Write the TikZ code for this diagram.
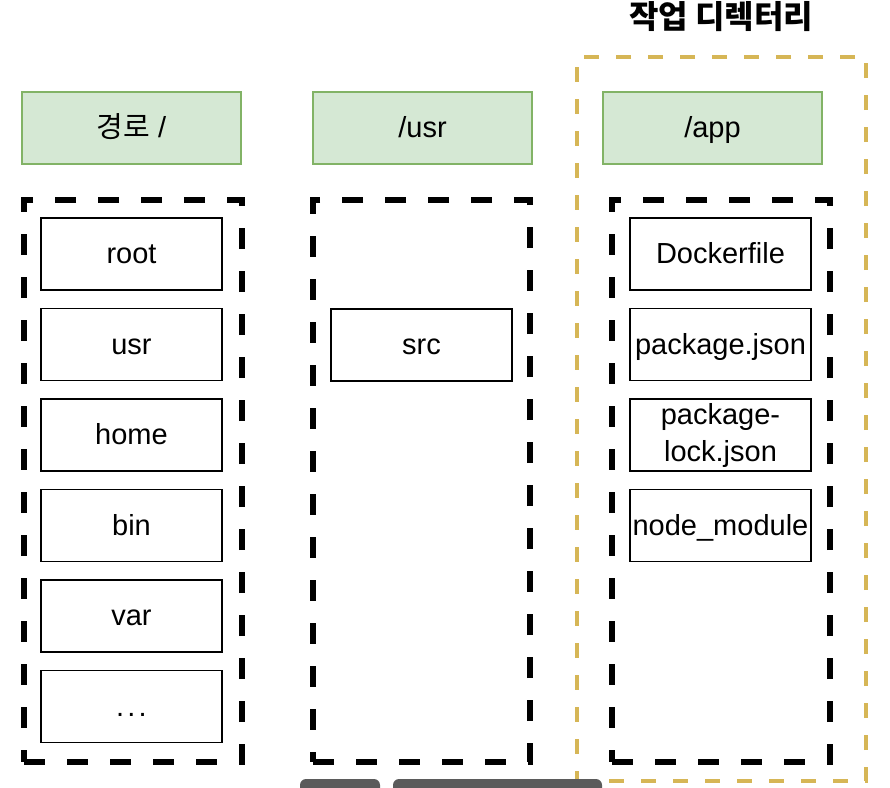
\documentclass[tikz,border=0pt]{standalone}
\usepackage{fontspec}
\setmainfont{Liberation Sans}
\newfontfamily\kr{Noto Sans CJK KR}
\usepackage{xcolor}
\usepackage{tikz}
\usetikzlibrary{shapes,positioning}

\definecolor{headfill}{HTML}{D5E8D4}
\definecolor{headline}{HTML}{82B366}
\definecolor{workline}{HTML}{D6B656}
\definecolor{barfill}{HTML}{5B5B5B}

\begin{document}
\begin{tikzpicture}[x=0.5pt, y=-0.5pt, node distance=45.25pt, font=\fontsize{14.5}{18.5}\selectfont]

\useasboundingbox (0,0) rectangle (890,788);

\tikzstyle{head}=[draw=headline, fill=headfill, line width=0.75pt, minimum width=109.5pt, minimum height=36pt, text height=10pt, text depth=0.5pt]
\tikzstyle{folder}=[draw, line width=2.8pt, dash pattern=on 10.5pt off 11pt, minimum width=109pt, minimum height=281pt]
\tikzstyle{item}=[draw, line width=0.7pt, minimum width=90.5pt, minimum height=36pt, inner sep=1pt, align=center, text height=10pt, text depth=0.5pt]

% title and working directory
\node [font=\kr\bfseries\fontsize{16}{18}\selectfont] (title) at (721,17) {작업 디렉터리};
\node [draw=workline, line width=2pt, dash pattern=on 7.5pt off 8.5pt, minimum width=144.5pt, minimum height=362pt] (workdir) at (721.5,419) {};

% headers
\node [head] (hroot) at (131.5,128) {{\kr 경로} /};
\node [head] (husr) at (422.5,128) {/usr};
\node [head] (happ) at (712.5,128) {/app};

% containers
\node [folder] (froot) at (133,481) {};
\node [folder, minimum width=108.5pt] (fusr) at (421.5,481) {};
\node [folder] (fapp) at (721,481) {};

% path /
\node [item] (root) at (131.5,254) {root};
\node [item] (usr) [below of=root] {usr};
\node [item] (home) [below of=usr] {home};
\node [item] (bin) [below of=home] {bin};
\node [item] (var) [below of=bin] {var};
\node [item] (etc) [below of=var] {.\kern1.6pt.\kern1.6pt.};

% /usr
\node [item] (src) at (421.5,345) {src};

% /app
\node [item] (docker) at (720.5,254) {Dockerfile};
\node [item] (pkg) [below of=docker] {package.json};
\node [item, text height=, text depth=] (lock) [below of=pkg] {package-\\lock.json};
\node [item] (modules) [below of=lock] {node\_module};

% bars at the bottom edge
\fill [barfill, rounded corners=3pt] (300,779) rectangle (380,800);
\fill [barfill, rounded corners=3pt] (393,779) rectangle (602,800);
\end{tikzpicture}
\end{document}
